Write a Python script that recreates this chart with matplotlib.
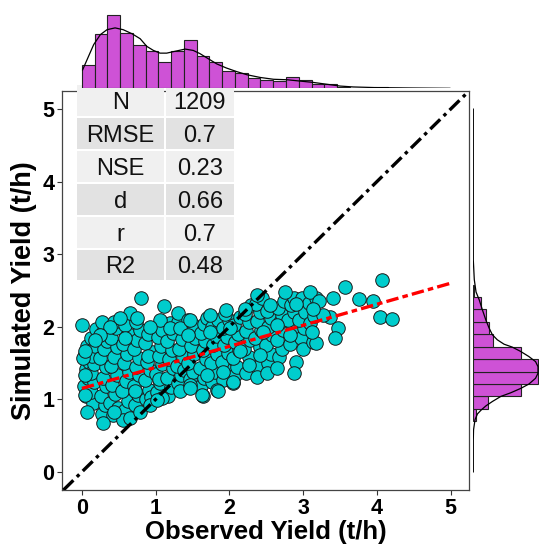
import numpy as np
import matplotlib
matplotlib.use("Agg")
import matplotlib.pyplot as plt
from matplotlib.patches import Rectangle

# ---- data ----
# scatter: observed (x) vs simulated (y), t/h
obs_a = [0.06, 0.03, 0.08, 0.05, 0.10, 0.04, 0.07,
         0.15, 0.13, 0.17, 0.12, 0.16, 0.14, 0.18, 0.13, 0.19,
         0.27, 0.31, 0.26, 0.33, 0.28, 0.32, 0.25, 0.30, 0.34, 0.29, 0.27,
         0.42, 0.38, 0.45, 0.41, 0.47, 0.40, 0.44, 0.48, 0.39, 0.46, 0.43, 0.49]
sim_a = [1.05, 1.18, 1.30, 1.42, 1.52, 1.62, 1.74,
         0.95, 1.10, 1.24, 1.36, 1.49, 1.60, 1.73, 1.85, 1.97,
         0.80, 0.92, 1.05, 1.18, 1.30, 1.44, 1.57, 1.70, 1.81, 1.93, 2.06,
         0.78, 0.95, 1.08, 1.20, 1.33, 1.46, 1.59, 1.72, 1.85, 1.98, 2.07, 0.88]

obs_b = [0.58, 0.62, 0.55, 0.60, 0.64, 0.57, 0.61, 0.56, 0.63, 0.59,
         0.72, 0.76, 0.70, 0.78, 0.73, 0.77, 0.71, 0.75, 0.79, 0.74, 0.72,
         0.87, 0.91, 0.85, 0.93, 0.88, 0.95, 0.86, 0.90, 0.94, 0.89]
sim_b = [0.85, 0.98, 1.12, 1.25, 1.38, 1.50, 1.63, 1.76, 1.90, 2.02,
         0.92, 1.06, 1.19, 1.33, 1.45, 1.57, 1.70, 1.82, 1.95, 2.06, 1.12,
         1.00, 1.13, 1.27, 1.40, 1.52, 1.65, 1.78, 1.90, 1.03, 1.60]

obs_c = [1.02, 1.06, 1.01, 1.08, 1.04, 1.07, 1.03, 1.09, 1.05,
         1.17, 1.21, 1.15, 1.23, 1.18, 1.22, 1.16, 1.24, 1.19,
         1.31, 1.35, 1.29, 1.37, 1.32, 1.36, 1.30, 1.38,
         1.46, 1.50, 1.44, 1.52, 1.48, 1.53, 1.45, 1.51]
sim_c = [1.10, 1.22, 1.35, 1.48, 1.60, 1.73, 1.86, 1.95, 1.28,
         1.05, 1.17, 1.30, 1.43, 1.56, 1.68, 1.80, 1.92, 2.05,
         1.22, 1.34, 1.46, 1.58, 1.70, 1.83, 2.06, 1.40,
         1.28, 1.38, 1.50, 1.62, 1.74, 1.84, 1.97, 2.02]

obs_d = [1.62, 1.66, 1.60, 1.68, 1.64, 1.67, 1.61, 1.65, 1.69,
         1.77, 1.81, 1.75, 1.83, 1.78, 1.82, 1.76, 1.84,
         1.92, 1.96, 1.90, 1.98, 1.93, 1.97, 1.91, 1.99, 1.94,
         2.07, 2.11, 2.05, 2.13, 2.08, 2.12, 2.06, 2.14,
         2.22, 2.26, 2.20, 2.28, 2.23, 2.27, 2.21, 2.29,
         2.37, 2.41, 2.35, 2.43, 2.38, 2.42, 2.36, 2.44]
sim_d = [1.18, 1.30, 1.43, 1.55, 1.68, 1.80, 1.92, 2.04, 2.12,
         1.24, 1.37, 1.50, 1.62, 1.75, 1.87, 2.00, 2.10,
         1.27, 1.40, 1.52, 1.64, 1.75, 1.86, 1.98, 2.10, 2.18,
         1.33, 1.45, 1.57, 1.68, 1.79, 1.90, 2.02, 2.14,
         1.36, 1.58, 1.70, 1.82, 1.94, 2.06, 2.18, 2.30,
         1.45, 1.72, 1.84, 1.96, 2.08, 2.20, 2.32, 2.40]

obs_e = [2.52, 2.56, 2.50, 2.58, 2.53, 2.57, 2.51,
         2.67, 2.71, 2.65, 2.73, 2.68, 2.72, 2.66, 2.74,
         2.82, 2.86, 2.80, 2.88, 2.83, 2.87,
         2.97, 3.01, 2.95, 3.03, 2.98,
         3.10, 3.15, 3.08, 3.17]
sim_e = [1.50, 1.62, 1.75, 1.88, 2.00, 2.12, 2.22,
         1.58, 1.70, 1.82, 1.95, 2.06, 2.16, 2.26, 2.36,
         1.76, 1.98, 2.10, 2.20, 2.30, 2.40,
         1.85, 1.98, 2.10, 2.21, 2.40,
         2.05, 2.15, 2.33, 2.40]

obs_f = [0.00, 0.80, 1.11, 0.65, 0.75, 0.52, 0.38, 1.31, 1.44, 1.06,
         0.93, 0.25, 0.18, 0.59, 1.20, 1.33, 1.44, 0.56, 0.29, 0.65,
         0.07, 0.43, 0.79, 0.93, 1.08, 1.33, 1.47, 0.04, 0.04, 0.02,
         0.04, 1.02, 1.64, 1.83, 2.05, 2.37]
sim_f = [2.02, 2.39, 2.28, 2.19, 2.12, 2.12, 2.00, 2.19, 2.09, 2.09,
         2.00, 1.89, 1.82, 1.84, 1.98, 1.98, 1.89, 0.72, 0.67, 0.74,
         0.83, 0.83, 0.83, 0.92, 1.02, 1.11, 1.20, 1.06, 1.34, 1.57,
         1.66, 0.99, 1.05, 1.13, 1.22, 1.31]

obs_g = [2.37, 2.75, 3.09, 2.55, 2.91, 1.74, 1.96, 2.21, 1.47, 3.00,
         2.91, 2.87, 2.51, 2.64, 2.05, 1.85, 1.63, 1.47, 3.14, 2.42,
         2.26, 1.92, 1.69, 2.14, 1.74, 2.01, 2.64, 2.82, 2.46,
         3.57, 4.07, 3.76, 3.95, 4.04, 4.21, 3.41, 3.21, 3.36, 3.27,
         3.48, 3.43, 3.18, 3.12, 3.14]
sim_g = [2.44, 2.48, 2.48, 2.30, 2.32, 2.16, 2.23, 2.25, 2.09, 1.70,
         1.52, 1.36, 1.36, 1.43, 1.24, 1.11, 1.06, 1.15, 1.79, 1.61,
         1.47, 1.38, 1.34, 1.66, 1.93, 1.98, 2.02, 1.89, 1.93,
         2.55, 2.64, 2.38, 2.35, 2.14, 2.11, 2.39, 2.35, 2.14, 2.16,
         1.98, 1.84, 1.77, 1.93, 2.25]

# regression line end points
fit_x = [0.0, 5.0]
fit_y = [1.15, 2.60]

# top marginal histogram (observed)
top_bin_width = 0.173
top_counts = [51, 121, 163, 122, 95, 83, 59, 83, 107, 72,
              58, 39, 34, 22, 19, 17, 25, 19, 10, 9,
              2, 1, 1, 2, 1]
top_kde_x = [0.01, 0.09, 0.16, 0.25, 0.34, 0.45, 0.56, 0.68, 0.79, 0.88,
             0.97, 1.06, 1.15, 1.26, 1.40, 1.51, 1.60, 1.72, 1.83, 1.96,
             2.10, 2.24, 2.42, 2.60, 2.78, 2.96, 3.14, 3.32, 3.50, 3.68,
             4.00, 4.45, 4.99]
top_kde_y = [41, 71, 97, 119, 130, 134, 130, 121, 110, 93,
             84, 78, 78, 82, 87, 84, 77, 65, 54, 45,
             37, 30, 24, 20, 19, 16, 13, 9, 5, 3,
             1.5, 0.7, 0]

# right marginal histogram (simulated)
right_edges = [0.70, 0.87, 1.04, 1.21, 1.38, 1.55, 1.72, 1.90, 2.07, 2.24, 2.41, 2.58]
right_counts = [11, 60, 191, 260, 260, 193, 81, 64, 51, 31, 4]
right_kde_y = [0.00, 0.44, 0.58, 0.72, 0.80, 0.85, 0.91, 0.97, 1.04, 1.09,
               1.15, 1.21, 1.29, 1.36, 1.45, 1.52, 1.59, 1.66, 1.72, 1.76,
               1.82, 1.89, 1.98, 2.09, 2.23, 2.37, 2.48, 2.65, 2.92, 5.00]
right_kde_x = [0, 0, 1, 7, 17, 31, 51, 77, 111, 151,
               191, 224, 251, 261, 261, 251, 224, 191, 157, 124,
               97, 77, 64, 51, 37, 24, 11, 4, 0, 0]

stat_names = ["N", "RMSE", "NSE", "d", "r", "R2"]
stat_values = ["1209", "0.7", "0.23", "0.66", "0.7", "0.48"]

# ---- figure ----
plt.rcParams["font.family"] = "Liberation Sans"
plt.rcParams["lines.scale_dashes"] = False

W, H = 539, 548
fig = plt.figure(figsize=(W / 100, H / 100), dpi=100)


def box(l, t, r, b):
    return [l / W, 1 - b / H, (r - l) / W, (b - t) / H]


ax = fig.add_axes(box(62, 91, 469, 490), zorder=1)
ax_tab = fig.add_axes([0, 0, 1, 1], zorder=2)
ax_top = fig.add_axes(box(62, 4, 469, 88.3), zorder=3)
ax_right = fig.add_axes(box(473.3, 91, 539, 490), zorder=3)

obs = obs_a + obs_b + obs_c + obs_d + obs_e + obs_f + obs_g
sim = sim_a + sim_b + sim_c + sim_d + sim_e + sim_f + sim_g

fill = "#00CDCD"
hist_fill = "#CE52D6"

ax.scatter(obs, sim, s=95, c=fill, edgecolors="#1a1a1a", linewidths=0.7, zorder=2)
ax.axline((0, 0), slope=1, color="black", lw=2.4, dashes=(10, 3.5, 2.5, 3.5), zorder=3)
ax.plot(fit_x, fit_y, color="red", lw=2.4, dashes=(9, 3, 4, 3), zorder=4)

ax.set_xlim(-0.27, 5.25)
ax.set_ylim(-0.25, 5.25)
ax.set_xticks(range(6))
ax.set_yticks(range(6))
ax.tick_params(length=3.5, width=0.8, color="#333333", labelsize=15.5, pad=2)
for lbl in ax.get_xticklabels() + ax.get_yticklabels():
    lbl.set_fontweight("bold")
for sp in ax.spines.values():
    sp.set_color("#444444")
    sp.set_linewidth(0.9)
ax.set_xlabel("Observed Yield (t/h)", fontsize=18.5, fontweight="bold", labelpad=1)
ax.set_ylabel("Simulated Yield (t/h)", fontsize=19.5, fontweight="bold", labelpad=4)

# top histogram
top_edges = np.arange(len(top_counts)) * top_bin_width
ax_top.bar(top_edges, top_counts, width=top_bin_width, align="edge",
           color=hist_fill, edgecolor="#222222", linewidth=0.8)
ax_top.plot(top_kde_x, top_kde_y, color="black", lw=0.9)
ax_top.set_xlim(-0.27, 5.25)
ax_top.set_ylim(0, 187)
ax_top.axis("off")

# right histogram
ax_right.barh(right_edges[:-1], right_counts, height=np.diff(right_edges), align="edge",
              color=hist_fill, edgecolor="#222222", linewidth=0.8)
ax_right.plot(right_kde_x, right_kde_y, color="black", lw=0.9)
ax_right.set_xlim(0, 265)
ax_right.set_ylim(-0.25, 5.25)
ax_right.axis("off")

# stats table
ax_tab.set_xlim(0, W)
ax_tab.set_ylim(H, 0)
ax_tab.axis("off")
row_top, row_h = 84, 32.9
cols = [76, 164.5, 235]
for i, (name, val) in enumerate(zip(stat_names, stat_values)):
    fc = "#F0F0F0" if i % 2 == 0 else "#E2E2E2"
    y0 = row_top + i * row_h
    for j, txt in enumerate([name, val]):
        ax_tab.add_patch(Rectangle((cols[j] + 1, y0 + 1), cols[j + 1] - cols[j] - 2, row_h - 2,
                                   facecolor=fc, edgecolor="none"))
        ax_tab.text((cols[j] + cols[j + 1]) / 2, y0 + row_h / 2, txt, ha="center",
                    va="center_baseline", fontsize=17, color="#111111")

fig.savefig("out.png", dpi=100)
